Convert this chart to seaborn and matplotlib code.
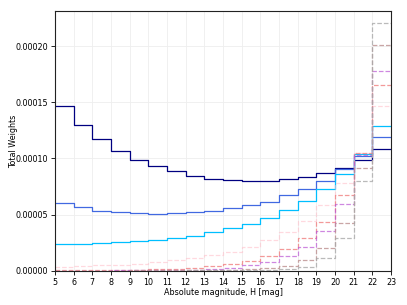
import numpy as np
import pandas as pd
import seaborn as sns
import matplotlib.pyplot as plt

# bin edges in absolute magnitude H
h_edges = list(range(5, 24))
h_centers = [e + 0.5 for e in h_edges[:-1]]

# total weights per 1-mag bin (x 1e-5)
w_navy = [14.64, 13.0, 11.73, 10.69, 9.88, 9.29, 8.84, 8.46, 8.19, 8.04, 8.01, 8.0, 8.16, 8.34, 8.7, 9.14, 9.88, 10.84]
w_royal = [6.02, 5.66, 5.36, 5.21, 5.12, 5.06, 5.1, 5.21, 5.33, 5.57, 5.84, 6.16, 6.72, 7.27, 7.95, 9.05, 10.2, 11.88]
w_sky = [2.41, 2.38, 2.45, 2.54, 2.62, 2.71, 2.89, 3.1, 3.48, 3.79, 4.17, 4.73, 5.39, 6.22, 7.27, 8.63, 10.4, 12.92]
w_pink = [0.3, 0.42, 0.48, 0.54, 0.6, 0.78, 0.96, 1.1, 1.4, 1.7, 2.14, 2.74, 3.45, 4.46, 5.87, 7.8, 10.5, 14.7]
w_coral = [0.02, 0.03, 0.04, 0.06, 0.08, 0.11, 0.16, 0.25, 0.4, 0.63, 0.85, 1.31, 1.92, 2.89, 4.38, 6.7, 10.45, 16.58]
w_orchid = [0.0, 0.01, 0.01, 0.02, 0.03, 0.04, 0.06, 0.1, 0.16, 0.25, 0.5, 0.8, 1.28, 2.14, 3.54, 5.96, 10.3, 17.77]
w_rosy = [0.0, 0.0, 0.01, 0.01, 0.02, 0.02, 0.03, 0.05, 0.07, 0.1, 0.13, 0.22, 0.42, 0.96, 2.0, 4.23, 9.14, 20.15]
w_grey = [0.0, 0.0, 0.0, 0.0, 0.01, 0.01, 0.01, 0.02, 0.03, 0.04, 0.06, 0.09, 0.15, 0.36, 1.1, 2.89, 7.95, 22.1]

series = [
    (w_navy, 'navy', '-', 1.0),
    (w_royal, 'royalblue', '-', 1.0),
    (w_sky, 'deepskyblue', '-', 1.0),
    (w_pink, 'pink', '--', 0.6),
    (w_coral, 'lightcoral', '--', 0.8),
    (w_orchid, 'mediumorchid', '--', 0.7),
    (w_rosy, 'rosybrown', '--', 0.8),
    (w_grey, 'darkgrey', '--', 0.8),
]

plt.rcParams['font.size'] = 5.8
fig = plt.figure(figsize=(4.07, 3.05), dpi=100)
ax = fig.add_axes([0.135, 0.1125, 0.826, 0.85])

for w, color, ls, alpha in series:
    df = pd.DataFrame({'H': h_centers, 'w': np.array(w) * 1e-5})
    sns.histplot(data=df, x='H', weights='w', bins=h_edges, element='step', fill=False,
                 color=color, linestyle=ls, linewidth=0.9, alpha=alpha, ax=ax)

ax.set_xlim(5, 23)
ax.set_ylim(0, 0.000231)
ax.set_xticks(h_edges)
ax.set_yticks([0, 0.00005, 0.0001, 0.00015, 0.0002])
ax.set_yticklabels(['0.00000', '0.00005', '0.00010', '0.00015', '0.00020'])
ax.grid(True, color='#eeeeee', linewidth=0.6)
ax.set_axisbelow(True)
ax.set_xlabel('Absolute magnitude, H [mag]', labelpad=1)
ax.set_ylabel('Total Weights', labelpad=-2)
ax.tick_params(length=3, width=0.6, pad=2)
for s in ax.spines.values():
    s.set_linewidth(0.8)
    s.set_color('#222222')

fig.savefig('out.png', dpi=100)
